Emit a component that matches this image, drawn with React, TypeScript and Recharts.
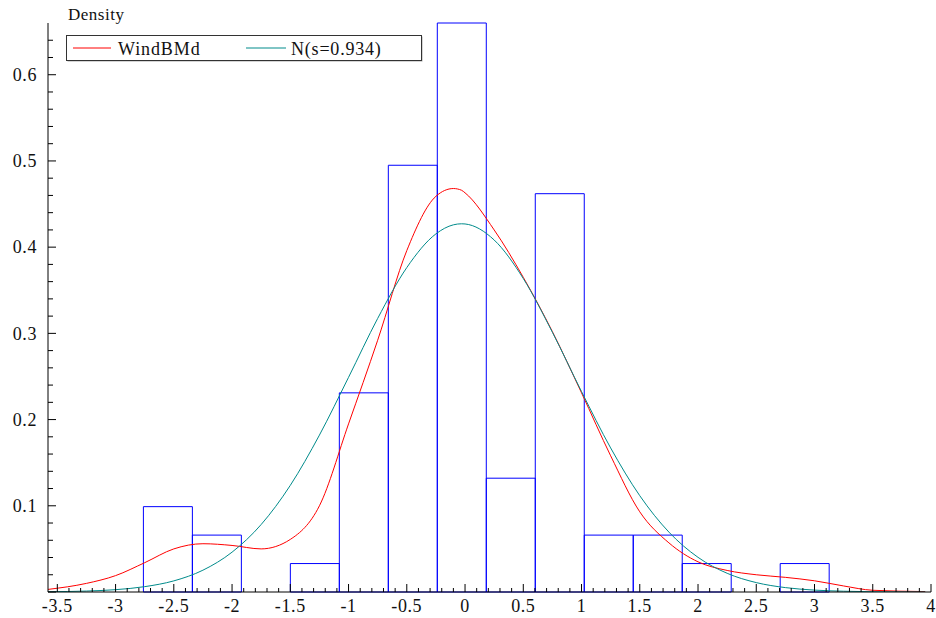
import { ComposedChart, Line, XAxis, YAxis, ReferenceArea } from 'recharts'

// histogram bins (left edge, right edge, density)
const binLeft = [-2.761, -2.3405, -1.92, -1.4995, -1.079, -0.6585, -0.238, 0.1825, 0.603, 1.0235, 1.444, 1.8645, 2.285, 2.7055]
const binRight = [-2.3405, -1.92, -1.4995, -1.079, -0.6585, -0.238, 0.1825, 0.603, 1.0235, 1.444, 1.8645, 2.285, 2.7055, 3.126]
const binDensity = [0.099, 0.066, 0, 0.033, 0.231, 0.495, 0.66, 0.132, 0.462, 0.066, 0.066, 0.033, 0, 0.033]

// curves
const curveX = [-3.58, -3.25, -3, -2.75, -2.5, -2.25, -2, -1.75, -1.5, -1.25, -1, -0.75, -0.5, -0.25, -0.1, -0.03, 0, 0.25, 0.5, 0.75, 1, 1.25, 1.5, 1.75, 2, 2.25, 2.5, 2.75, 3, 3.25, 3.5, 3.95]
const kdeY = [0.003, 0.01, 0.019, 0.034, 0.05, 0.056, 0.054, 0.05, 0.061, 0.1, 0.195, 0.292, 0.396, 0.459, 0.468, 0.466, 0.463, 0.42, 0.365, 0.302, 0.231, 0.158, 0.093, 0.057, 0.035, 0.025, 0.02, 0.017, 0.013, 0.007, 0.002, 0.0005]
const normY = [0.0003, 0.0011, 0.0027, 0.0062, 0.0129, 0.0253, 0.0462, 0.0783, 0.1237, 0.182, 0.249, 0.3173, 0.3763, 0.4154, 0.4259, 0.4271, 0.4269, 0.4083, 0.3636, 0.3013, 0.2325, 0.1671, 0.1117, 0.0695, 0.0402, 0.0217, 0.0109, 0.0051, 0.0022, 0.0009, 0.0003, 0.0]

const seriesNames = ['WindBMd', 'N(s=0.934)']

const xTicks: number[] = []
for (let i = -35; i <= 40; i++) xTicks.push(i / 10)
const yTicks: number[] = []
for (let i = 0; i <= 32; i++) yTicks.push(i / 50)

const kdeData = curveX.map((x, i) => ({ x, y: kdeY[i] }))
const normData = curveX.map((x, i) => ({ x, y: normY[i] }))
const bins = binLeft
  .map((l, i) => ({ l, r: binRight[i], h: binDensity[i] }))
  .filter((b) => b.h > 0)

const FONT = '"Liberation Serif", "Times New Roman", serif'

const XTick = (props: any) => {
  const { x, y, payload } = props
  const v = payload.value
  const major = Math.abs(v * 2 - Math.round(v * 2)) < 1e-6
  return (
    <g>
      <line x1={x} x2={x} y1={y} y2={y - (major ? 8 : 4)} stroke="#000" />
      {major && (
        <text x={x} y={y + 20} textAnchor="middle" fontSize={18} fontFamily={FONT} letterSpacing={0.6} fill="#111">
          {String(Number(v.toFixed(1)))}
        </text>
      )}
    </g>
  )
}

const YTick = (props: any) => {
  const { x, y, payload } = props
  const v = payload.value
  const i = Math.round(v * 50)
  const major = i % 5 === 0
  return (
    <g>
      <line x1={x} x2={x + (major ? 8 : 5)} y1={y} y2={y} stroke="#000" />
      {major && i > 0 && (
        <text x={x - 11} y={y} dy="0.35em" textAnchor="end" fontSize={18} fontFamily={FONT} letterSpacing={0.6} fill="#111">
          {String(Number(v.toFixed(1)))}
        </text>
      )}
    </g>
  )
}

export default function App() {
  return (
    <div style={{ position: 'relative', width: 936, height: 618, background: '#fff' }}>
      <style>{'body{margin:0}'}</style>
      <ComposedChart width={936} height={618} margin={{ top: 23, right: 5, left: 0, bottom: 0 }}>
        <XAxis
          type="number"
          dataKey="x"
          domain={[-3.58, 4]}
          ticks={xTicks}
          interval={0}
          tickLine={false}
          tickSize={0}
          tickMargin={0}
          height={26}
          allowDataOverflow
          axisLine={{ stroke: '#000' }}
          tick={<XTick />}
        />
        <YAxis
          type="number"
          dataKey="y"
          domain={[0, 0.66]}
          ticks={yTicks}
          interval={0}
          tickLine={false}
          tickSize={0}
          tickMargin={0}
          width={48}
          allowDataOverflow
          axisLine={{ stroke: '#000' }}
          tick={<YTick />}
        />
        {bins.map((b, i) => (
          <ReferenceArea
            key={i}
            x1={b.l}
            x2={b.r}
            y1={0}
            y2={b.h}
            fill="none"
            fillOpacity={0}
            stroke="#0000ff"
            strokeWidth={1}
            strokeOpacity={1}
            ifOverflow="visible"
          />
        ))}
        <Line data={kdeData} dataKey="y" type="monotone" stroke="#ff0000" strokeWidth={1} dot={false} isAnimationActive={false} />
        <Line data={normData} dataKey="y" type="monotone" stroke="#008b8b" strokeWidth={1} dot={false} isAnimationActive={false} />
      </ComposedChart>
      <svg width={936} height={618} style={{ position: 'absolute', left: 0, top: 0, pointerEvents: 'none' }}>
        <text x={68} y={20} fontSize={17} fontFamily={FONT} letterSpacing={0.5} fill="#111">
          Density
        </text>
        <rect x={67.5} y={36.5} width={355} height={25} fill="#aaa" />
        <rect x={66.5} y={35.5} width={355} height={25} fill="#fff" stroke="#333" />
        <line x1={73} x2={111} y1={48} y2={48} stroke="#ff0000" />
        <text x={118} y={55} fontSize={18} fontFamily={FONT} letterSpacing={0.9} fill="#111">
          {seriesNames[0]}
        </text>
        <line x1={246} x2={286} y1={48} y2={48} stroke="#008b8b" />
        <text x={291} y={55} fontSize={18} fontFamily={FONT} letterSpacing={0.8} fill="#111">
          {seriesNames[1]}
        </text>
      </svg>
    </div>
  )
}
